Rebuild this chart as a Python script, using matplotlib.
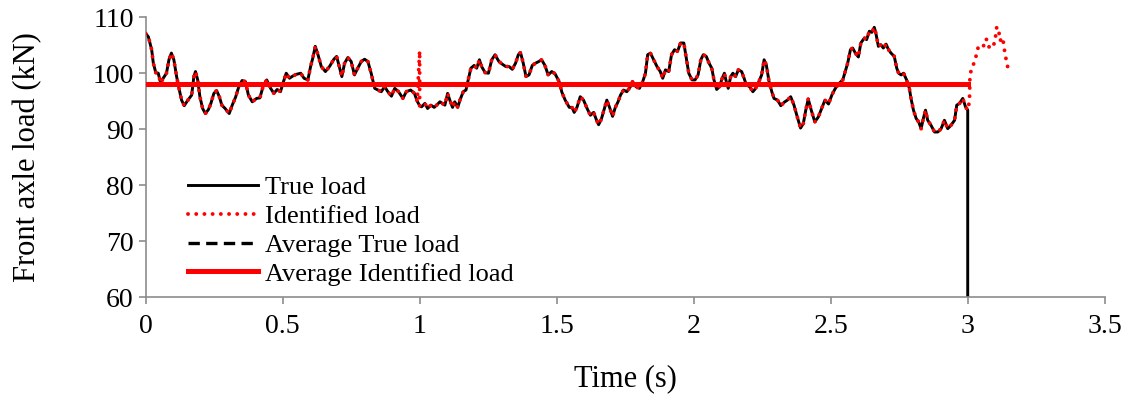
import matplotlib
matplotlib.use('Agg')

import matplotlib.pyplot as plt
import numpy as np

plt.rcParams['font.family'] = ['Liberation Serif', 'DejaVu Serif']

# Time (s) and true front axle load (kN)
t_true = [0.000, 0.010, 0.022, 0.028, 0.037, 0.046, 0.055, 0.064, 0.076, 0.085,
          0.094, 0.103, 0.113, 0.123, 0.131, 0.141, 0.150, 0.159, 0.168, 0.176,
          0.182, 0.190, 0.198, 0.208, 0.218, 0.229, 0.238, 0.249, 0.259, 0.269,
          0.278, 0.290, 0.305, 0.316, 0.328, 0.340, 0.352, 0.364, 0.375, 0.389,
          0.405, 0.417, 0.430, 0.442, 0.456, 0.468, 0.480, 0.492, 0.503, 0.513,
          0.525, 0.537, 0.550, 0.566, 0.578, 0.592, 0.602, 0.610, 0.619, 0.629,
          0.641, 0.656, 0.671, 0.687, 0.697, 0.708, 0.716, 0.726, 0.738, 0.750,
          0.762, 0.774, 0.787, 0.799, 0.811, 0.823, 0.836, 0.848, 0.860, 0.872,
          0.884, 0.897, 0.909, 0.923, 0.939, 0.951, 0.967, 0.981, 0.991, 1.000,
          1.007, 1.019, 1.029, 1.041, 1.053, 1.062, 1.074, 1.083, 1.092, 1.102,
          1.110, 1.120, 1.128, 1.139, 1.147, 1.159, 1.169, 1.177, 1.187, 1.199,
          1.208, 1.218, 1.226, 1.239, 1.251, 1.263, 1.275, 1.289, 1.302, 1.314,
          1.326, 1.338, 1.350, 1.360, 1.368, 1.378, 1.388, 1.399, 1.411, 1.423,
          1.435, 1.445, 1.457, 1.469, 1.482, 1.494, 1.509, 1.519, 1.531, 1.546,
          1.556, 1.564, 1.574, 1.586, 1.598, 1.611, 1.623, 1.635, 1.644, 1.653,
          1.663, 1.674, 1.683, 1.693, 1.704, 1.714, 1.724, 1.733, 1.744, 1.756,
          1.769, 1.777, 1.789, 1.802, 1.814, 1.824, 1.832, 1.842, 1.854, 1.866,
          1.878, 1.887, 1.897, 1.909, 1.919, 1.930, 1.941, 1.952, 1.964, 1.972,
          1.982, 1.994, 2.005, 2.016, 2.026, 2.035, 2.046, 2.056, 2.066, 2.074,
          2.084, 2.094, 2.104, 2.112, 2.119, 2.126, 2.135, 2.143, 2.153, 2.163,
          2.175, 2.184, 2.192, 2.204, 2.216, 2.226, 2.238, 2.248, 2.257, 2.265,
          2.275, 2.285, 2.293, 2.306, 2.318, 2.330, 2.342, 2.354, 2.366, 2.378,
          2.390, 2.400, 2.409, 2.418, 2.429, 2.442, 2.455, 2.467, 2.479, 2.492,
          2.505, 2.517, 2.531, 2.544, 2.553, 2.562, 2.572, 2.580, 2.590, 2.601,
          2.610, 2.623, 2.631, 2.641, 2.650, 2.659, 2.665, 2.674, 2.683, 2.692,
          2.702, 2.711, 2.720, 2.732, 2.741, 2.748, 2.757, 2.766, 2.777, 2.787,
          2.793, 2.802, 2.812, 2.821, 2.830, 2.838, 2.846, 2.854, 2.866, 2.879,
          2.891, 2.903, 2.915, 2.927, 2.939, 2.952, 2.960, 2.970, 2.982, 2.992,
          3.000]
true_load = [107.1, 106.5, 104.2, 101.8, 100.1, 100.0, 98.2, 99.1, 100.0, 102.4,
             103.6, 102.4, 99.4, 97.0, 95.2, 94.2, 94.9, 95.5, 96.1, 99.4,
             100.3, 98.8, 95.8, 93.7, 92.8, 93.5, 94.6, 96.4, 96.9, 95.8,
             94.3, 93.7, 92.8, 94.3, 95.7, 97.6, 98.7, 98.5, 96.1, 94.9,
             95.5, 95.6, 97.9, 98.8, 97.3, 96.4, 97.1, 96.7, 98.5, 100.0,
             99.1, 99.5, 99.8, 100.0, 99.1, 98.8, 101.2, 102.7, 104.8, 103.3,
             101.2, 100.3, 101.2, 102.5, 103.0, 100.9, 99.4, 101.8, 102.8, 102.1,
             99.7, 100.9, 102.1, 102.5, 102.1, 100.0, 97.3, 97.0, 96.7, 97.6,
             96.7, 95.9, 97.3, 96.7, 95.5, 96.7, 97.0, 96.4, 95.0, 94.2,
             94.0, 94.6, 93.7, 94.3, 93.9, 94.3, 94.9, 94.6, 94.3, 96.4,
             95.2, 93.9, 94.9, 93.9, 95.2, 96.7, 97.0, 98.8, 100.9, 101.4,
             100.9, 102.4, 101.2, 100.1, 100.0, 102.4, 103.3, 102.1, 101.6, 101.2,
             101.2, 100.7, 101.8, 103.3, 103.7, 101.8, 99.4, 99.7, 101.4, 101.8,
             102.1, 102.4, 101.4, 99.7, 100.3, 99.9, 98.5, 96.6, 95.2, 93.9,
             93.9, 93.0, 93.9, 95.8, 95.2, 93.7, 92.5, 93.0, 91.8, 90.8,
             91.8, 93.7, 95.2, 93.9, 92.3, 93.9, 94.9, 96.1, 97.0, 96.7,
             97.6, 98.5, 97.6, 97.3, 98.5, 100.0, 103.3, 103.6, 102.4, 101.2,
             100.3, 99.1, 100.6, 100.3, 103.3, 104.2, 103.9, 105.4, 105.4, 103.0,
             100.0, 98.8, 98.8, 99.7, 102.4, 103.3, 103.0, 101.8, 100.9, 98.8,
             97.1, 97.6, 99.1, 100.0, 98.5, 97.3, 99.4, 100.0, 99.4, 100.6,
             100.3, 99.1, 97.9, 97.6, 96.7, 97.3, 98.5, 99.7, 102.4, 101.5,
             98.5, 96.7, 95.5, 95.2, 94.2, 94.8, 95.2, 95.8, 94.3, 92.2,
             90.2, 91.0, 93.4, 95.4, 93.4, 91.3, 92.2, 93.7, 95.2, 94.5,
             96.2, 97.3, 98.2, 98.8, 100.3, 101.8, 104.2, 104.5, 103.6, 102.9,
             105.4, 106.3, 106.0, 107.5, 107.3, 108.2, 107.1, 104.8, 105.1, 104.5,
             105.2, 104.2, 103.6, 103.0, 100.9, 100.0, 99.7, 100.0, 98.8, 97.3,
             95.5, 93.4, 91.9, 91.3, 90.1, 91.9, 93.4, 91.6, 90.7, 89.5,
             89.5, 90.1, 91.6, 90.1, 90.7, 91.6, 94.3, 94.6, 95.5, 94.0,
             93.4]

# identified load follows the true load, plus a spike at 1 s and a tail after 3 s
spike_t = [1.000]
spike_load = [104.0]
tail_t = [3.006, 3.007, 3.008, 3.014, 3.026, 3.032, 3.039, 3.057, 3.063, 3.071,
          3.079, 3.087, 3.099, 3.106, 3.114, 3.118, 3.127, 3.132, 3.136, 3.142, 3.148]
tail_load = [94.9, 96.4, 99.4, 100.9, 102.1, 103.4, 104.8, 104.7, 106.1, 106.0,
             104.5, 104.5, 105.5, 108.3, 107.3, 105.8, 106.4, 105.0, 103.4, 102.1, 100.6]

avg_true = 98.1
avg_ident = 98.15
avg_span = [0.0, 3.0]

# True load ends with a drop to zero at 3 s
t_black = t_true + [3.0]
y_black = true_load + [0.0]

# Identified: insert spike just before the 1 s point
i = t_true.index(1.000)
t_red = t_true[:i] + spike_t + t_true[i:] + tail_t
y_red = true_load[:i] + spike_load + true_load[i:] + tail_load

fig = plt.figure(figsize=(11.29, 4.01), dpi=100)
ax = fig.add_axes([0.129, 0.259, 0.8495, 0.698])

ax.plot(t_black, y_black, color='black', lw=2.1, label='True load', zorder=2)
ax.plot(t_red, y_red, color='red', lw=2.8, linestyle=(0, (0.01, 2.1)),
        dash_capstyle='round', label='Identified load', zorder=3)
ax.plot(avg_span, [avg_true, avg_true], color='black', lw=2.4, linestyle=(0, (3.4, 1.9)),
        label='Average True load', zorder=4)
ax.plot(avg_span, [avg_ident, avg_ident], color='red', lw=3.6,
        label='Average Identified load', zorder=5)

ax.set_xlim(0, 3.5)
ax.set_ylim(60, 110)
ax.set_xticks(np.arange(0, 3.51, 0.5))
ax.set_xticklabels(['0', '0.5', '1', '1.5', '2', '2.5', '3', '3.5'])
ax.set_yticks(np.arange(60, 111, 10))

for s in ['top', 'right']:
    ax.spines[s].set_visible(False)
for s in ['left', 'bottom']:
    ax.spines[s].set_color('#8c8c8c')
    ax.spines[s].set_linewidth(1.2)
ax.tick_params(colors='#8c8c8c', labelcolor='black', labelsize=20, length=5, width=1.2)
ax.tick_params(axis='x', pad=7)

ax.set_xlabel('Time (s)', fontsize=22, labelpad=18)
ax.set_ylabel('Front axle load (kN)', fontsize=22, labelpad=36)

ax.legend(loc='lower left', bbox_to_anchor=(0.019, -0.044), frameon=False, fontsize=19,
          handlelength=2.65, handletextpad=0.3, labelspacing=0.2)

fig.savefig('out.png', dpi=100)
